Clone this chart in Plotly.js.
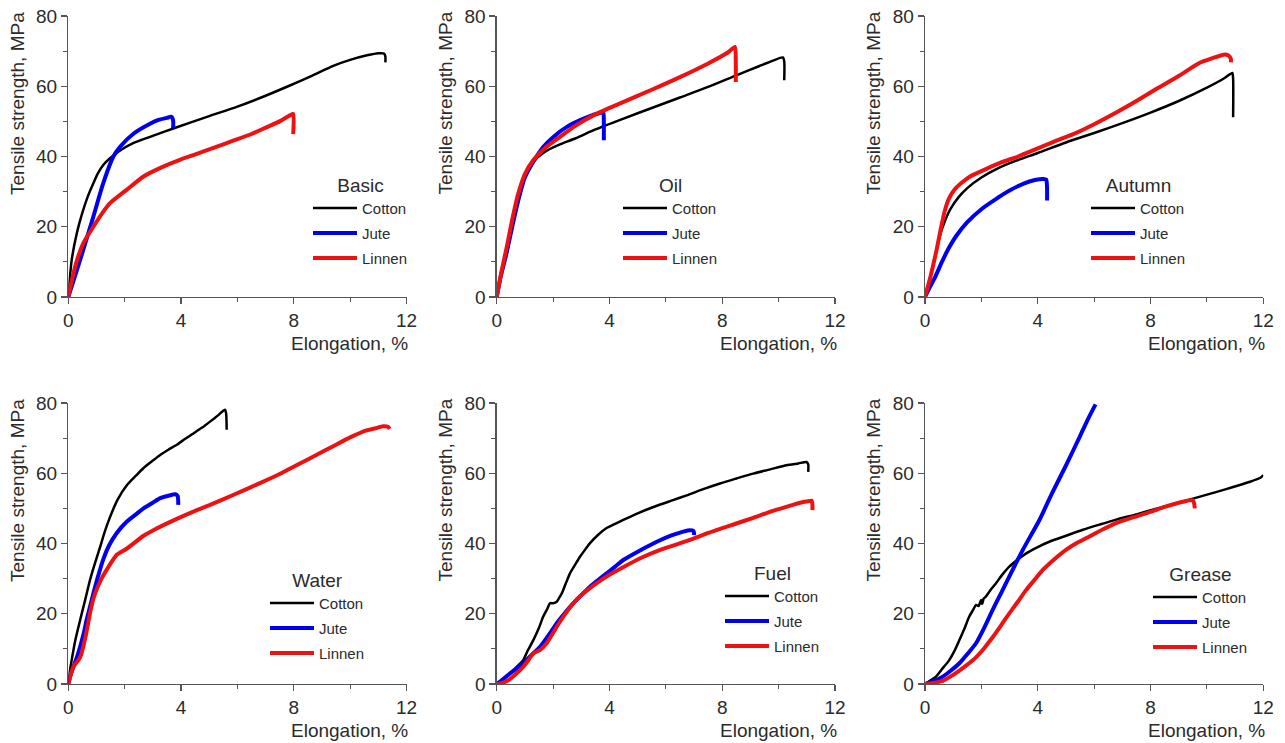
<!DOCTYPE html>
<html>
<head>
<meta charset="utf-8">
<script src="https://cdn.plot.ly/plotly-3.0.1.min.js"></script>
<style>html,body{margin:0;padding:0;background:#fff;}#chart{width:1285px;height:743px;}</style>
</head>
<body>
<div id="chart"></div>
<script>
// ---- categories / labels ----
const conditions = ['Basic', 'Oil', 'Autumn', 'Water', 'Fuel', 'Grease'];
const materials = ['Cotton', 'Jute', 'Linnen'];
const xTickVals = [0, 4, 8, 12];
const yTickVals = [0, 20, 40, 60, 80];
const xTitle = 'Elongation, %';
const yTitle = 'Tensile strength, MPa';

// ---- Basic ----
const basicCottonX = [0, 0.05, 0.12, 0.3, 0.53, 0.7, 0.89, 1.05, 1.24, 1.48, 1.8, 2.3, 2.9, 3.8, 5.0, 6.0, 7.0, 7.8, 8.6, 9.4, 10.0, 10.6, 11.0, 11.2, 11.25, 11.25];
const basicCottonY = [0, 5, 10.5, 18.1, 24.8, 28.8, 32.4, 35.2, 37.6, 39.5, 41.5, 43.8, 45.6, 48.2, 51.5, 54.2, 57.3, 60, 62.8, 65.8, 67.5, 68.8, 69.4, 69.3, 68.5, 66.8];
const basicJuteX = [0, 0.2, 0.53, 0.89, 1.24, 1.6, 1.83, 2.3, 2.9, 3.2, 3.5, 3.66, 3.72, 3.72];
const basicJuteY = [0, 5, 13.4, 22.9, 32.4, 40, 42.7, 46.4, 49.3, 50.4, 51, 51.3, 50.2, 48];
const basicLinnenX = [0, 0.24, 0.53, 0.89, 1.2, 1.48, 2.07, 2.67, 3.25, 4.0, 4.44, 5.2, 5.85, 6.5, 7.03, 7.5, 7.86, 7.98, 7.98];
const basicLinnenY = [0, 8.6, 15.3, 20, 23.8, 26.7, 30.5, 34.3, 36.7, 39.2, 40.4, 42.6, 44.5, 46.4, 48.3, 50, 51.7, 52.1, 46.4];

// ---- Oil ----
const oilCottonX = [0, 0.15, 0.35, 0.55, 0.75, 1.0, 1.3, 1.7, 2.2, 2.8, 3.5, 4.5, 5.5, 6.5, 7.5, 8.5, 9.3, 9.8, 10.15, 10.2, 10.2];
const oilCottonY = [0, 6, 13, 21, 28.5, 34.5, 38.5, 41.3, 43.3, 45.2, 47.7, 50.8, 53.8, 56.8, 59.8, 63.1, 65.7, 67.3, 68.2, 67, 61.7];
const oilJuteX = [0, 0.15, 0.35, 0.55, 0.75, 1.0, 1.3, 1.65, 2.0, 2.5, 3.0, 3.4, 3.7, 3.78, 3.8, 3.8];
const oilJuteY = [0, 6, 12.5, 20, 27, 34, 38.5, 42.7, 45.5, 48.5, 50.5, 51.8, 52.5, 52.7, 50, 44.6];
const oilLinnenX = [0, 0.15, 0.35, 0.55, 0.75, 1.0, 1.3, 1.7, 2.2, 2.8, 3.5, 4.4, 5.5, 6.5, 7.5, 8.2, 8.45, 8.48, 8.48];
const oilLinnenY = [0, 6.5, 14, 22, 29, 35, 39, 42.3, 45.3, 48.8, 52, 55.2, 59, 62.6, 66.5, 69.6, 71.2, 67, 61.2];

// ---- Autumn ----
const autumnCottonX = [0, 0.2, 0.4, 0.55, 0.7, 0.9, 1.2, 1.5, 2.0, 2.6, 3.3, 4.0, 5.0, 6.0, 7.0, 8.0, 9.0, 10.0, 10.6, 10.9, 10.93, 10.93];
const autumnCottonY = [0, 6, 13, 18, 21.5, 25, 28.5, 31, 34, 36.7, 39, 41, 44, 46.7, 49.5, 52.5, 55.8, 59.6, 62.2, 63.8, 62, 51.2];
const autumnJuteX = [0, 0.15, 0.35, 0.6, 0.85, 1.1, 1.5, 2.0, 2.5, 3.0, 3.5, 3.9, 4.2, 4.3, 4.33, 4.33];
const autumnJuteY = [0, 2.5, 5.5, 10, 14, 17.3, 21.3, 25, 27.8, 30.3, 32.3, 33.3, 33.6, 33.4, 31, 27.5];
const autumnLinnenX = [0, 0.2, 0.4, 0.55, 0.7, 0.85, 1.05, 1.3, 1.6, 2.1, 2.7, 3.3, 4.0, 4.6, 5.3, 6.0, 6.8, 7.5, 8.2, 9.0, 9.7, 10.2, 10.6, 10.75, 10.85, 10.85];
const autumnLinnenY = [0, 6, 13, 19, 24.5, 28, 30.6, 32.5, 34.3, 36.2, 38.3, 40, 42.3, 44.3, 46.5, 49.2, 52.6, 55.8, 59.2, 62.9, 66.5, 68, 69, 68.8, 67.8, 66.8];

// ---- Water ----
const waterCottonX = [0, 0.05, 0.12, 0.25, 0.42, 0.6, 0.77, 0.95, 1.12, 1.3, 1.48, 1.75, 2.07, 2.4, 2.67, 3.0, 3.26, 3.55, 3.85, 4.15, 4.45, 4.75, 5.03, 5.3, 5.56, 5.6, 5.62];
const waterCottonY = [0, 3.5, 6.8, 12.5, 18.2, 24, 29.6, 34.5, 38.8, 43.5, 47.5, 52.5, 56.5, 59.3, 61.5, 63.6, 65.2, 66.7, 68.1, 69.8, 71.4, 73, 74.7, 76.4, 78.1, 77, 72.4];
const waterJuteX = [0, 0.08, 0.18, 0.3, 0.42, 0.55, 0.65, 0.77, 0.89, 1.05, 1.24, 1.45, 1.72, 2.07, 2.4, 2.67, 3.0, 3.26, 3.55, 3.8, 3.88, 3.9, 3.9];
const waterJuteY = [0, 2.5, 4.9, 7.5, 10.6, 14.5, 18.2, 22, 25.8, 30.5, 35.5, 39.5, 43, 46.2, 48.3, 50, 51.6, 52.9, 53.6, 54, 53.5, 52, 51];
const waterLinnenX = [0, 0.08, 0.18, 0.28, 0.36, 0.45, 0.53, 0.65, 0.77, 0.88, 1.0, 1.18, 1.36, 1.72, 2.07, 2.67, 3.02, 3.85, 4.5, 5.03, 5.85, 6.8, 7.5, 8.2, 8.8, 9.4, 10.0, 10.58, 10.9, 11.17, 11.35, 11.4];
const waterLinnenY = [0, 2.5, 4.9, 6, 6.8, 8.2, 10.6, 15, 20.1, 24, 26.8, 30, 32.5, 36.8, 38.5, 42.2, 43.8, 47, 49.3, 51, 53.8, 57.2, 59.8, 62.7, 65.2, 67.7, 70.2, 72.2, 72.8, 73.4, 73.2, 72.6];

// ---- Fuel ----
const fuelCottonX = [0, 0.2, 0.47, 0.7, 0.94, 1.1, 1.3, 1.5, 1.65, 1.8, 1.89, 2.0, 2.13, 2.2, 2.31, 2.45, 2.6, 2.8, 2.96, 3.15, 3.31, 3.6, 3.9, 4.2, 4.49, 5.0, 5.56, 6.2, 6.74, 7.3, 7.92, 8.5, 9.1, 9.7, 10.28, 10.7, 10.99, 11.05, 11.05];
const fuelCottonY = [0, 1.2, 3, 4.8, 6.8, 9.5, 12.5, 16, 19.2, 21.5, 23, 23, 23.4, 24.3, 25.8, 28.6, 31.5, 34.2, 36.3, 38.4, 40.1, 42.5, 44.4, 45.6, 46.7, 48.6, 50.4, 52.2, 53.7, 55.4, 57.1, 58.5, 59.9, 61.1, 62.3, 62.8, 63.2, 62.5, 60.4];
const fuelJuteX = [0, 0.2, 0.47, 0.7, 0.94, 1.2, 1.54, 1.85, 2.13, 2.42, 2.72, 3.0, 3.31, 3.6, 3.9, 4.2, 4.49, 5.1, 5.68, 6.2, 6.62, 6.86, 6.98, 7.0, 7.0];
const fuelJuteY = [0, 1.2, 3, 4.4, 5.9, 8, 10.6, 14, 17.3, 20.2, 23, 25.3, 27.7, 29.6, 31.5, 33.4, 35.3, 38.1, 40.5, 42.3, 43.4, 43.8, 43.6, 43, 42.4];
const fuelLinnenX = [0, 0.2, 0.47, 0.7, 0.94, 1.1, 1.3, 1.54, 1.77, 2.0, 2.13, 2.42, 2.72, 3.0, 3.31, 3.6, 3.9, 4.5, 5.09, 5.8, 6.86, 7.5, 8.5, 9.1, 9.69, 10.3, 10.87, 11.1, 11.17, 11.2, 11.2];
const fuelLinnenY = [0, 0.3, 1.4, 3, 4.9, 6.5, 8.7, 9.7, 11.6, 14.5, 16.3, 19.8, 23, 25.3, 27.3, 29, 30.6, 33.3, 35.8, 38.2, 41, 43, 45.7, 47.3, 49, 50.5, 51.8, 52.1, 52.2, 51, 49.5];

// ---- Grease ----
const greaseCottonX = [0, 0.15, 0.39, 0.6, 0.86, 1.05, 1.22, 1.4, 1.57, 1.7, 1.81, 1.9, 1.99, 2.03, 2.08, 2.15, 2.3, 2.52, 2.75, 2.99, 3.3, 3.59, 4.0, 4.41, 5.0, 5.6, 6.2, 6.78, 7.5, 8.2, 8.9, 9.6, 10.35, 10.9, 11.5, 11.9, 12.0];
const greaseCottonY = [0, 0.8, 2.1, 4.2, 6.8, 9.5, 12.5, 15.8, 19.2, 21, 22.5, 22.2, 23.9, 22.8, 24.3, 24.8, 26.5, 28.7, 31.2, 33.4, 35.5, 37.2, 39, 40.5, 42.2, 43.9, 45.4, 46.8, 48.3, 49.9, 51.4, 53, 54.7, 56, 57.5, 58.7, 59.5];
const greaseJuteX = [0, 0.3, 0.63, 0.9, 1.22, 1.5, 1.81, 2.1, 2.4, 2.7, 2.99, 3.47, 4.06, 4.5, 5.0, 5.5, 5.8, 6.05];
const greaseJuteY = [0, 0.8, 2.1, 3.7, 5.9, 8.5, 11.6, 16, 21.1, 25.9, 30.6, 38.2, 46.7, 54.2, 62.2, 70.6, 75.7, 79.6];
const greaseLinnenX = [0, 0.3, 0.63, 0.9, 1.22, 1.5, 1.81, 2.1, 2.4, 2.7, 2.99, 3.3, 3.59, 3.9, 4.18, 4.6, 5.0, 5.4, 5.83, 6.3, 6.78, 7.4, 8.0, 8.5, 9.0, 9.3, 9.5, 9.55, 9.57];
const greaseLinnenY = [0, 0.3, 0.9, 2.1, 3.8, 5.5, 7.6, 10.2, 13.3, 16.7, 20.1, 23.5, 26.8, 29.8, 32.5, 35.6, 38.2, 40.2, 42, 44, 45.8, 47.5, 49, 50.4, 51.6, 52.2, 52.3, 51.3, 50];

const seriesData = {
  Basic:  [[basicCottonX, basicCottonY], [basicJuteX, basicJuteY], [basicLinnenX, basicLinnenY]],
  Oil:    [[oilCottonX, oilCottonY], [oilJuteX, oilJuteY], [oilLinnenX, oilLinnenY]],
  Autumn: [[autumnCottonX, autumnCottonY], [autumnJuteX, autumnJuteY], [autumnLinnenX, autumnLinnenY]],
  Water:  [[waterCottonX, waterCottonY], [waterJuteX, waterJuteY], [waterLinnenX, waterLinnenY]],
  Fuel:   [[fuelCottonX, fuelCottonY], [fuelJuteX, fuelJuteY], [fuelLinnenX, fuelLinnenY]],
  Grease: [[greaseCottonX, greaseCottonY], [greaseJuteX, greaseJuteY], [greaseLinnenX, greaseLinnenY]]
};

// ---- styling / layout (pixel geometry) ----
const W = 1285, H = 743;
const FONT = '"Liberation Sans", Arial, sans-serif';
const TXT = '#2b2b2b';
const AX = '#555555';
const colors = ['#000000', '#0000ee', '#ee1111'];
const widths = [2.5, 4, 4];
const colPx = [[68.3, 406.5], [496.7, 835], [925, 1263.3]];
const rowPx = [[16, 297], [403, 684]];
const legendPx = [[308, 167], [618, 167], [1086, 167], [265, 562], [720, 555], [1148, 556]];
const yTitlePx = [17.5, 445, 873];

const px2x = p => p / W;
const px2y = p => 1 - p / H;

const traces = [];
const layout = {
  width: W, height: H,
  margin: {l: 0, r: 0, t: 0, b: 0},
  paper_bgcolor: '#fff', plot_bgcolor: '#fff',
  font: {family: FONT, color: TXT, size: 19},
  showlegend: true,
  annotations: []
};

conditions.forEach((cond, i) => {
  const r = Math.floor(i / 3), c = i % 3;
  const n = i + 1;
  const xa = n === 1 ? 'x' : 'x' + n;
  const ya = n === 1 ? 'y' : 'y' + n;
  const lg = n === 1 ? 'legend' : 'legend' + n;
  materials.forEach((m, k) => {
    traces.push({
      type: 'scatter', mode: 'lines',
      x: seriesData[cond][k][0], y: seriesData[cond][k][1],
      name: m, xaxis: xa, yaxis: ya, legend: lg,
      legendgroup: cond + m, legendrank: k + 1,
      line: {color: colors[k], width: widths[k], shape: 'spline', smoothing: 0.6},
      hoverinfo: 'skip'
    });
  });
  const axCommon = {
    showgrid: false, zeroline: false, showline: true, linecolor: AX, linewidth: 1.3,
    ticks: 'outside', ticklen: 6, tickwidth: 1.2, tickcolor: AX,
    tickfont: {family: FONT, size: 19, color: TXT}, fixedrange: true
  };
  layout['xaxis' + (n === 1 ? '' : n)] = Object.assign({}, axCommon, {
    domain: [px2x(colPx[c][0]), px2x(colPx[c][1])],
    anchor: ya, range: [0, 12], tickmode: 'array', tickvals: xTickVals,
    minor: {dtick: 2, tick0: 0, ticks: 'outside', ticklen: 4, tickwidth: 1, tickcolor: AX}
  });
  layout['yaxis' + (n === 1 ? '' : n)] = Object.assign({}, axCommon, {
    domain: [px2y(rowPx[r][1]), px2y(rowPx[r][0])],
    anchor: xa, range: [0, 80], tickmode: 'array', tickvals: yTickVals,
    minor: {dtick: 10, tick0: 0, ticks: 'outside', ticklen: 4, tickwidth: 1, tickcolor: AX}
  });
  layout[lg] = {
    x: px2x(legendPx[i][0]), y: px2y(legendPx[i][1]), xanchor: 'left', yanchor: 'top',
    bgcolor: 'rgba(0,0,0,0)', borderwidth: 0,
    font: {family: FONT, size: 15, color: TXT},
    title: {text: cond, side: 'top center', font: {family: FONT, size: 19, color: TXT}},
    itemwidth: 44, tracegroupgap: 2.5, traceorder: 'grouped'
  };
  // axis titles
  layout.annotations.push({
    text: xTitle, xref: 'paper', yref: 'paper', showarrow: false,
    x: px2x(colPx[c][1] + 4), y: px2y(rowPx[r][1] + 46), xanchor: 'right', yanchor: 'middle',
    font: {family: FONT, size: 19, color: TXT}
  });
  layout.annotations.push({
    text: yTitle, xref: 'paper', yref: 'paper', showarrow: false, textangle: -90,
    x: px2x(yTitlePx[c]), y: px2y(rowPx[r][0] - 6), xanchor: 'center', yanchor: 'top',
    font: {family: FONT, size: 19, color: TXT}
  });
});

Plotly.newPlot('chart', traces, layout, {staticPlot: true, displayModeBar: false});
</script>
</body>
</html>
